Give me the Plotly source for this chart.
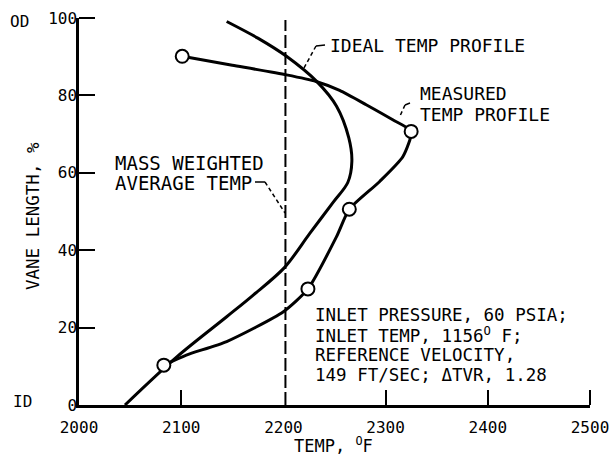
import plotly.graph_objects as go

# ---- data ----
ideal_temp = [2144.5, 2175, 2203, 2233, 2252, 2264, 2267, 2263, 2249, 2226, 2201, 2170.5, 2144.5, 2096, 2045]
ideal_len = [99.1, 94.8, 90.1, 83.5, 77.2, 69, 63, 57.5, 52.5, 44.4, 35.5, 28.4, 22.8, 12.5, 0]

meas_curve_temp = [2101, 2150, 2203, 2232, 2255, 2281, 2307, 2325, 2317, 2294, 2264.5, 2252, 2224, 2200, 2144.5, 2105, 2083]
meas_curve_len = [90.1, 87.8, 85.3, 83.6, 81.3, 77.6, 73.7, 70.7, 64.2, 57.7, 50.6, 43.5, 30, 24.1, 16.4, 12.9, 10.3]

meas_pts_temp = [2101, 2325, 2264.5, 2224, 2083]
meas_pts_len = [90.1, 70.7, 50.6, 30, 10.3]

mass_avg_temp = 2202
x_ticks = [2000, 2100, 2200, 2300, 2400, 2500]
y_ticks = [0, 20, 40, 60, 80, 100]

FONT = "DejaVu Sans Mono"
W, H = 611, 455
L, R, T, B = 79, 21, 18, 50
PW, PH = W - L - R, H - T - B

def px(x):
    return (x - L) / PW

def py(y):
    return (H - B - y) / PH

fig = go.Figure()

fig.add_trace(go.Scatter(x=[mass_avg_temp, mass_avg_temp], y=[0, 99.5], mode="lines",
                         line=dict(color="black", width=2, dash="13px,4px"), hoverinfo="skip"))
fig.add_trace(go.Scatter(x=ideal_temp, y=ideal_len, mode="lines",
                         line=dict(color="black", width=3, shape="spline", smoothing=0.9)))
fig.add_trace(go.Scatter(x=meas_curve_temp, y=meas_curve_len, mode="lines",
                         line=dict(color="black", width=3, shape="spline", smoothing=0.6)))
fig.add_trace(go.Scatter(x=meas_pts_temp, y=meas_pts_len, mode="markers",
                         marker=dict(size=13, color="white", line=dict(color="black", width=2))))

ann = []
def text(x, y, s, size=17, xanchor="left", angle=0):
    ann.append(dict(x=px(x), y=py(y), xref="paper", yref="paper", text=s, showarrow=False,
                    xanchor=xanchor, yanchor="middle", textangle=angle,
                    font=dict(family=FONT, size=size, color="black")))

text(328, 45, "IDEAL TEMP PROFILE", size=18)
text(418, 94, "MEASURED", size=18)
text(418, 114, "TEMP PROFILE", size=18)
text(113, 163, "MASS WEIGHTED", size=19)
text(113, 183, "AVERAGE TEMP", size=19)
text(313, 315, "INLET PRESSURE, 60 PSIA;", size=17.5)
text(313, 335, "INLET TEMP, 1156<sup>O</sup> F;", size=17.5)
text(313, 355, "REFERENCE VELOCITY,", size=17.5)
text(313, 375, "149 FT/SEC; \u0394TVR, 1.28", size=17.5)
text(292, 445, "TEMP, <sup>O</sup>F", size=17)
text(33, 216, "VANE LENGTH, %", size=17.5, xanchor="center", angle=-90)
text(8, 21, "OD", size=16)
text(11, 401, "ID", size=16)

shapes = []
def seg(x0, y0, x1, y1, dash="solid", w=1.5):
    shapes.append(dict(type="line", xref="paper", yref="paper", x0=px(x0), y0=py(y0), x1=px(x1), y1=py(y1),
                       line=dict(color="black", width=w, dash=dash)))

seg(316, 46, 325, 45)
seg(316, 46, 304, 68, dash="4px,3px")
seg(410, 103, 405, 105)
seg(405, 105, 400, 116, dash="4px,3px")
seg(255, 182, 265, 182)
seg(265, 182, 285, 213, dash="4px,3px")

fig.update_layout(
    width=W, height=H, margin=dict(l=L, r=R, t=T, b=B, autoexpand=False),
    paper_bgcolor="white", plot_bgcolor="white", showlegend=False,
    annotations=ann, shapes=shapes,
    xaxis=dict(range=[2000, 2500], tickvals=x_ticks, ticks="", showgrid=False, zeroline=False,
               showline=True, linecolor="black", linewidth=2.5, automargin=False,
               ticklabelstandoff=6,
               tickfont=dict(family=FONT, size=16, color="black"),
               minor=dict(tickvals=[2100, 2300, 2400, 2500], ticks="inside", ticklen=15,
                          tickwidth=2, tickcolor="black", showgrid=False)),
    yaxis=dict(range=[0, 100], tickvals=y_ticks, ticks="", showgrid=False, zeroline=False,
               showline=True, linecolor="black", linewidth=2.5, automargin=False,
               ticklabelstandoff=-4,
               tickfont=dict(family=FONT, size=16, color="black"),
               minor=dict(tickvals=[20, 40, 60, 80, 100], ticks="inside", ticklen=16,
                          tickwidth=2, tickcolor="black", showgrid=False)),
)

fig.write_html("out.html", config={"displayModeBar": False},
               post_script="document.body.style.margin='0';")
